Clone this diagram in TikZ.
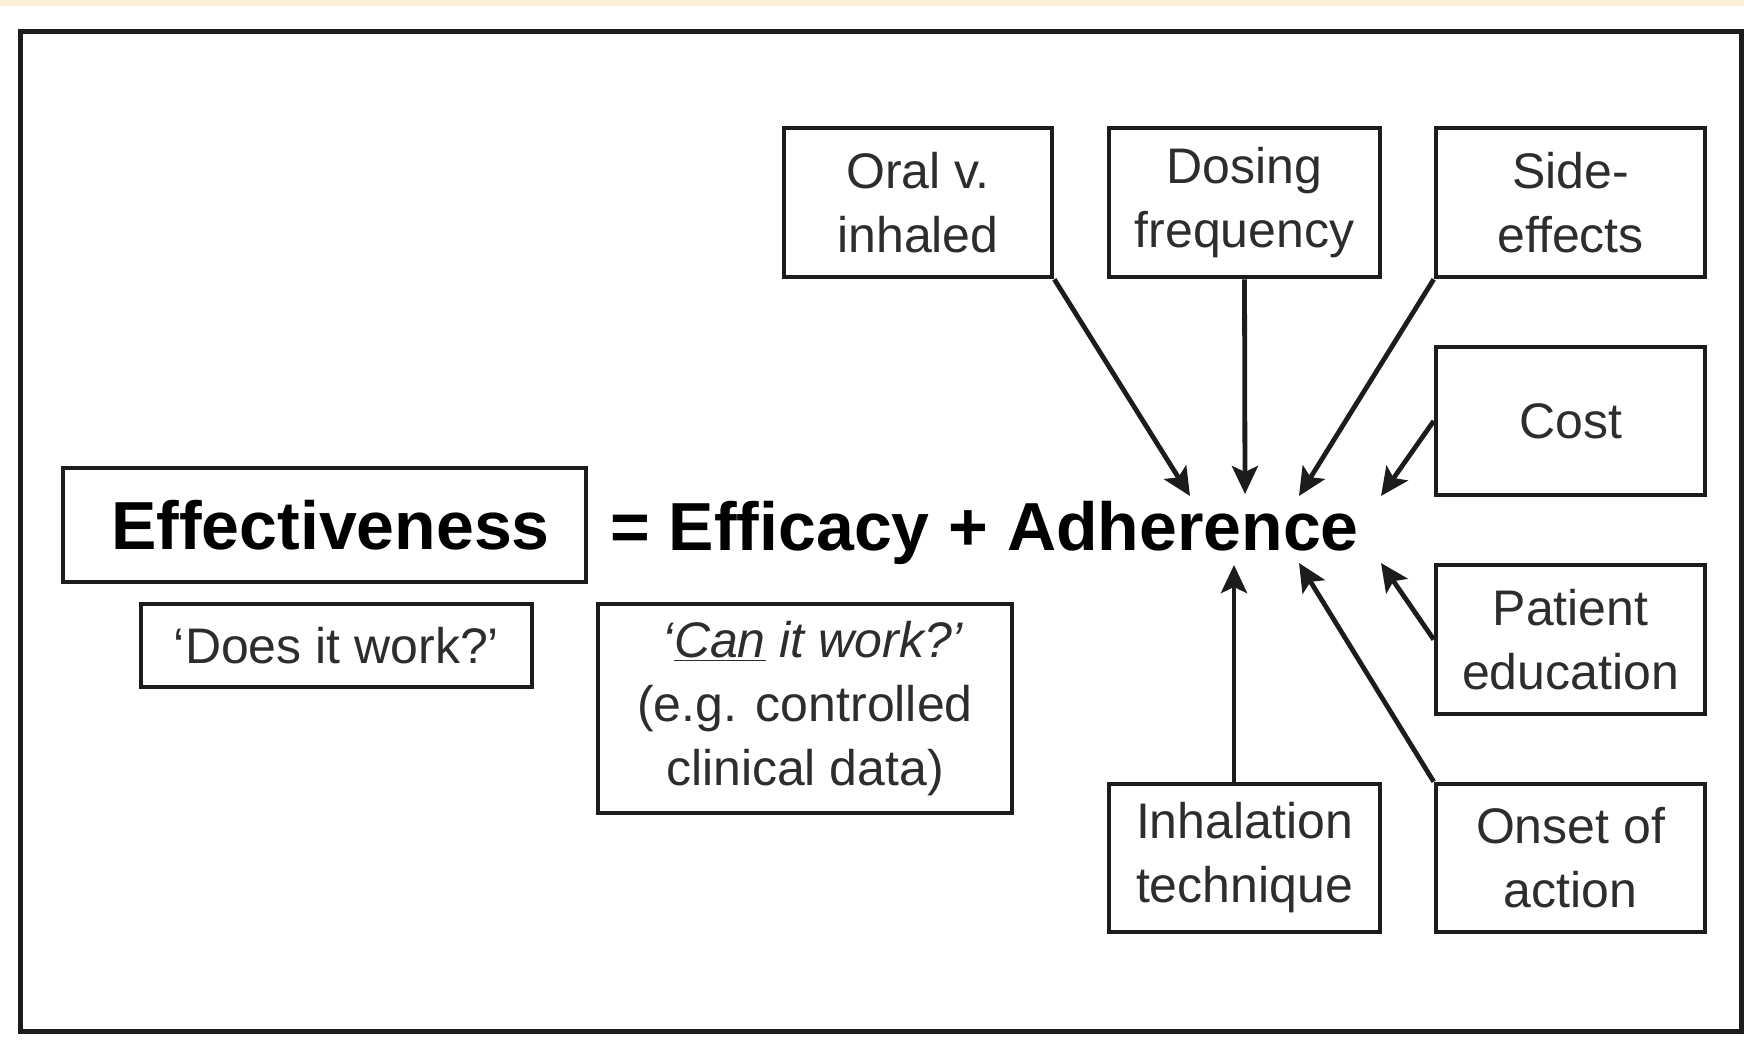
\documentclass[tikz,border=0pt]{standalone}
\usepackage{fontspec}
\setmainfont{Liberation Sans}
\usetikzlibrary{arrows.meta}
\definecolor{ink}{RGB}{28,28,28}
\definecolor{txt}{RGB}{45,45,45}
\definecolor{band}{RGB}{250,238,214}
\begin{document}
\begin{tikzpicture}[x=0.5pt,y=-0.5pt,
  box/.style={draw=ink,line width=2.3pt,align=center,inner sep=0pt,text=txt,
    font=\fontsize{25}{32}\selectfont},
  bigtxt/.style={font=\fontsize{34}{40}\selectfont\bfseries,text=black},
  arr/.style={draw=ink,line width=2.4pt,-{Stealth[length=14pt,width=13pt,inset=3pt]}},
]
\useasboundingbox (0,0) rectangle (1744,1057);
\fill[white] (0,0) rectangle (1744,1057);
\fill[band] (0,0) rectangle (1744,6);
\draw[ink,line width=2.5pt] (20,31) rectangle (1741,1031);

% left side
\node[box,bigtxt,minimum width=261.5pt,minimum height=57pt] (eff) at (324.5,525) {\hspace{6pt}Effectiveness};
\node[anchor=base west,inner sep=0pt,bigtxt] (eq) at (610,550) {= Efficacy + Adherence};
\node[box,minimum width=195.5pt,minimum height=41.5pt] (does) at (336.5,645.5) {‘Does it work?’};
\node[box,minimum width=207pt,minimum height=104.5pt] (can) at (805,708.5)
  {\hspace{8pt}{\itshape ‘\underline{Can} it work?’}\\(e.g. controlled\\clinical data)};

% factor boxes
\node[box,minimum width=134pt,minimum height=74.5pt] (oral) at (918,202.5) {Oral v.\\inhaled};
\node[box,minimum width=135.5pt,minimum height=74.5pt] (dos) at (1244.5,202.5) {Dosing\\frequency};
\node[box,minimum width=134.5pt,minimum height=74.5pt] (side) at (1570.5,202.5) {Side-\\effects};
\node[box,minimum width=134.5pt,minimum height=74pt] (cost) at (1570.5,421) {Cost};
\node[box,minimum width=134.5pt,minimum height=74.5pt] (pat) at (1570.5,639.5) {Patient\\education};
\node[box,minimum width=135.5pt,minimum height=74pt] (inh) at (1244.5,858) {Inhalation\\technique};
\node[box,minimum width=134.5pt,minimum height=74pt] (ons) at (1570.5,858) {Onset of\\action};

% arrow tips
\coordinate (t1) at (1190,496);
\coordinate (t2) at (1245,494);
\coordinate (t3) at (1299,496);
\coordinate (t4) at (1381,496);
\coordinate (t5) at (1381,563);
\coordinate (t6) at (1234,565);
\coordinate (t7) at (1299,563);

\draw[arr] (oral.south east) -- (t1);
\draw[arr] (dos.south) -- (t2);
\draw[arr] (side.south west) -- (t3);
\draw[arr] (cost.west) -- (t4);
\draw[arr] (pat.west) -- (t5);
\draw[arr] (inh.north -| t6) -- (t6);
\draw[arr] (ons.north west) -- (t7);
\end{tikzpicture}
\end{document}
